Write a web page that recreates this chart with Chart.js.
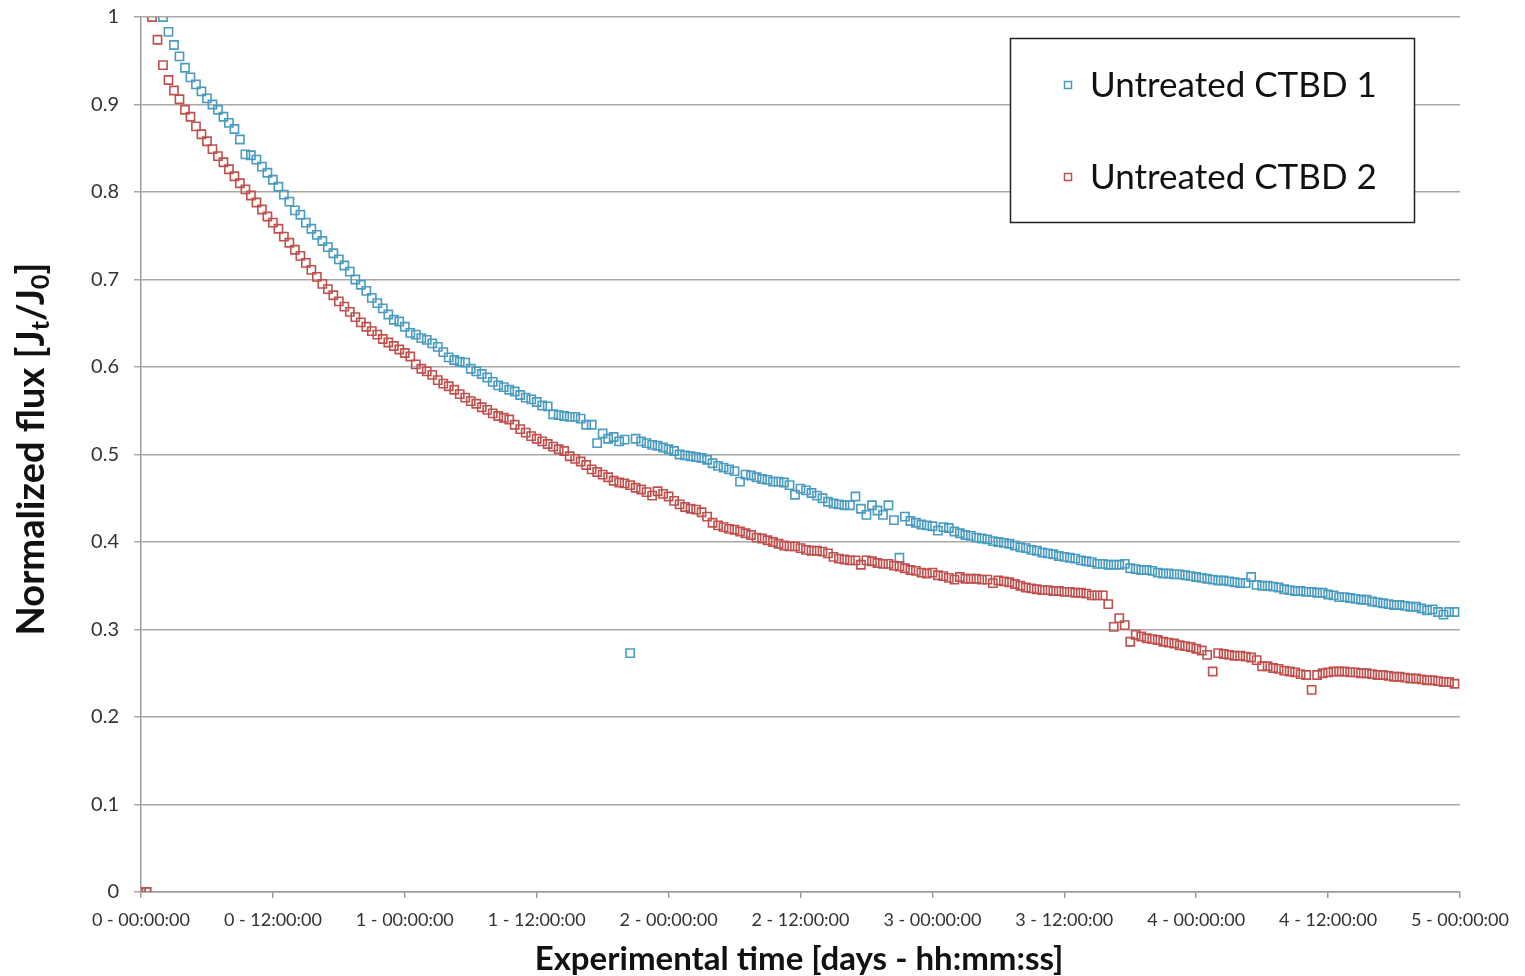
<!DOCTYPE html>
<html>
<head>
<meta charset="utf-8">
<title>Normalized flux - untreated CTBD</title>
<script src="https://cdn.jsdelivr.net/npm/chart.js@4.4.0/dist/chart.umd.min.js"></script>
<style>
    html, body { margin: 0; padding: 0; background: #fff; }
    #wrap { position: relative; width: 1525px; height: 976px; }
</style>
</head>
<body>
<div id="wrap"><canvas id="fluxChart"></canvas></div>
<script>
// Sample times (hours). Both runs log 0 for the first two readings.
const zeroHours = [0, 0.5];
const stepHours = 0.5;
const ctbd1StartHour = 2;
const ctbd2StartHour = 1;

// Untreated CTBD 1, Jt/J0 every 30 min from hour 2
const ctbd1 = [
    1.000, .983, .968, .955, .942, .931, .923, .915, .907, .900,
    .894, .886, .879, .872, .860, .843, .842, .837, .829, .822,
    .814, .806, .797, .789, .779, .774, .765, .758, .751, .744,
    .737, .730, .723, .716, .709, .700, .694, .687, .679, .673,
    .667, .660, .654, .652, .646, .639, .637, .633, .631, .627,
    .623, .617, .611, .608, .606, .605, .598, .595, .592, .588,
    .583, .579, .577, .574, .572, .568, .565, .563, .560, .556,
    .555, .546, .545, .544, .543, .543, .541, .534, .534, .513,
    .524, .518, .520, .515, .517, .273, .518, .515, .513, .511,
    .510, .508, .506, .504, .500, .499, .498, .497, .496, .494,
    .490, .487, .485, .483, .481, .469, .477, .476, .474, .472,
    .471, .469, .469, .468, .465, .454, .461, .459, .456, .453,
    .450, .446, .444, .443, .442, .442, .452, .438, .431, .442,
    .436, .431, .442, .425, .382, .429, .424, .422, .420, .419,
    .418, .413, .417, .416, .412, .410, .408, .407, .405, .404,
    .403, .401, .400, .399, .398, .396, .394, .393, .391, .390,
    .388, .387, .386, .384, .383, .382, .381, .379, .378, .377,
    .375, .375, .374, .374, .374, .375, .370, .369, .368, .368,
    .367, .365, .364, .364, .363, .363, .362, .361, .360, .359,
    .358, .357, .356, .356, .355, .354, .353, .353, .360, .351,
    .350, .350, .349, .348, .346, .345, .344, .344, .343, .343,
    .342, .342, .340, .339, .337, .337, .336, .335, .334, .334,
    .332, .331, .330, .329, .328, .328, .327, .326, .326, .324,
    .322, .323, .320, .317, .320, .320
];

// Untreated CTBD 2, Jt/J0 every 30 min from hour 1
const ctbd2 = [
    1.000, .974, .945, .928, .916, .906, .894, .886, .875, .866,
    .858, .849, .841, .834, .826, .818, .810, .803, .796, .788,
    .780, .772, .765, .758, .749, .742, .734, .727, .719, .711,
    .703, .695, .689, .682, .675, .669, .663, .657, .651, .646,
    .641, .637, .632, .628, .624, .620, .616, .612, .603, .598,
    .595, .591, .585, .581, .578, .574, .569, .565, .561, .558,
    .554, .551, .547, .544, .542, .540, .534, .529, .525, .521,
    .518, .515, .512, .509, .506, .504, .498, .495, .492, .488,
    .483, .480, .477, .474, .470, .468, .467, .465, .462, .460,
    .457, .453, .458, .455, .452, .447, .443, .440, .438, .437,
    .434, .429, .422, .419, .417, .415, .414, .412, .410, .408,
    .405, .404, .402, .400, .398, .396, .395, .395, .393, .391,
    .390, .390, .389, .387, .383, .381, .380, .379, .379, .374,
    .379, .378, .376, .375, .375, .373, .372, .370, .368, .367,
    .365, .364, .365, .362, .361, .359, .357, .360, .358, .358,
    .358, .357, .357, .353, .356, .355, .354, .352, .350, .348,
    .347, .346, .345, .345, .344, .344, .343, .343, .342, .342,
    .341, .339, .339, .339, .329, .303, .313, .305, .286, .294,
    .292, .290, .289, .288, .286, .285, .284, .282, .281, .280,
    .278, .276, .271, .252, .273, .272, .271, .270, .270, .269,
    .268, .265, .258, .258, .256, .255, .253, .252, .251, .249,
    .248, .231, .248, .250, .251, .252, .252, .252, .251, .251,
    .250, .250, .249, .248, .248, .247, .246, .246, .245, .244,
    .244, .243, .242, .242, .241, .240, .240, .238
];

const xTickHours = [0, 12, 24, 36, 48, 60, 72, 84, 96, 108, 120];
const xTickLabels = ['0 - 00:00:00', '0 - 12:00:00', '1 - 00:00:00', '1 - 12:00:00', '2 - 00:00:00',
    '2 - 12:00:00', '3 - 00:00:00', '3 - 12:00:00', '4 - 00:00:00', '4 - 12:00:00', '5 - 00:00:00'];
const yTickLabels = ['0', '0.1', '0.2', '0.3', '0.4', '0.5', '0.6', '0.7', '0.8', '0.9', '1'];

const seriesNames = ['Untreated CTBD 1', 'Untreated CTBD 2'];
const seriesColors = ['#4a9bc0', '#c0504d'];

function toPoints(startHour, values) {
    const pts = zeroHours.map(h => ({ x: h, y: 0 }));
    values.forEach((v, i) => pts.push({ x: startHour + i * stepHours, y: v }));
    return pts;
}

// Axis titles (with subscripts) and the boxed legend
const decorations = {
    id: 'decorations',
    afterDatasetsDraw(chart) {
        const ctx = chart.ctx;
        ctx.save();

        // x title
        ctx.fillStyle = '#111';
        ctx.font = 'bold 33px Lato';
        ctx.textAlign = 'center';
        ctx.textBaseline = 'middle';
        ctx.fillText('Experimental time [days - hh:mm:ss]', 799, 959);

        // y title, rotated, J_t / J_0
        const parts = [
            { t: 'Normalized flux [J', size: 38, dy: 0 },
            { t: 't', size: 25, dy: 9 },
            { t: '/J', size: 38, dy: 0 },
            { t: '0', size: 25, dy: 9 },
            { t: ']', size: 38, dy: 0 }
        ];
        let total = 0;
        parts.forEach(p => {
            ctx.font = 'bold ' + p.size + 'px Lato';
            p.w = ctx.measureText(p.t).width;
            total += p.w;
        });
        ctx.translate(32, 449);
        ctx.rotate(-Math.PI / 2);
        ctx.textAlign = 'left';
        ctx.textBaseline = 'middle';
        let x = -total / 2;
        parts.forEach(p => {
            ctx.font = 'bold ' + p.size + 'px Lato';
            ctx.fillText(p.t, x, p.dy);
            x += p.w;
        });
        ctx.setTransform(1, 0, 0, 1, 0, 0);

        // legend box
        ctx.fillStyle = '#fff';
        ctx.fillRect(1010, 38, 405, 185);
        ctx.strokeStyle = '#222';
        ctx.lineWidth = 1.5;
        ctx.strokeRect(1010.5, 38.5, 404, 184);
        const rows = [85, 177];
        ctx.font = '35px Lato';
        ctx.textAlign = 'left';
        ctx.textBaseline = 'middle';
        rows.forEach((y, i) => {
            ctx.strokeStyle = seriesColors[i];
            ctx.lineWidth = 1.5;
            ctx.strokeRect(1064.5, y - 3.5, 7, 7);
            ctx.fillStyle = '#111';
            ctx.fillText(seriesNames[i], 1090, y + 1);
        });
        ctx.restore();
    }
};

const ctx = document.getElementById('fluxChart').getContext('2d');
const fluxChart = new Chart(ctx, {
    type: 'scatter',
    data: {
        datasets: [
            {
                label: seriesNames[0],
                data: toPoints(ctbd1StartHour, ctbd1),
                borderColor: seriesColors[0],
                backgroundColor: 'rgba(0,0,0,0)',
                pointStyle: 'rect',
                pointRadius: 5.8,
                pointBorderWidth: 1.6,
                order: 1
            },
            {
                label: seriesNames[1],
                data: toPoints(ctbd2StartHour, ctbd2),
                borderColor: seriesColors[1],
                backgroundColor: 'rgba(0,0,0,0)',
                pointStyle: 'rect',
                pointRadius: 5.8,
                pointBorderWidth: 1.6,
                order: 0
            }
        ]
    },
    options: {
        responsive: true,
        maintainAspectRatio: false,
        animation: false,
        devicePixelRatio: 1,
        layout: { padding: { top: 17, right: 65, left: 0, bottom: 0 } },
        plugins: {
            legend: { display: false },
            tooltip: { enabled: false }
        },
        scales: {
            x: {
                type: 'linear',
                min: 0,
                max: 120,
                afterBuildTicks: scale => {
                    scale.ticks = xTickHours.map(h => ({ value: h }));
                },
                afterFit: scale => { scale.height = 84; },
                ticks: {
                    autoSkip: false,
                    maxRotation: 0,
                    padding: 11,
                    color: '#333',
                    font: { family: 'Lato', size: 18 },
                    callback: v => xTickLabels[xTickHours.indexOf(v)]
                },
                grid: { drawOnChartArea: false, tickLength: 6, color: '#9a9a9a', lineWidth: 1.5 },
                border: { color: '#9a9a9a', width: 1.5 }
            },
            y: {
                min: 0,
                max: 1,
                afterFit: scale => {
                    scale.width = 141;
                    scale.paddingTop = 0;
                    scale.paddingBottom = 0;
                },
                ticks: {
                    stepSize: 0.1,
                    padding: 15,
                    color: '#333',
                    font: { family: 'Lato', size: 20 },
                    callback: v => yTickLabels[Math.round(v * 10)]
                },
                grid: { color: '#a8a8a8', lineWidth: 1.5, tickLength: 7 },
                border: { color: '#9a9a9a', width: 1.5 }
            }
        }
    },
    plugins: [decorations]
});
</script>
</body>
</html>
